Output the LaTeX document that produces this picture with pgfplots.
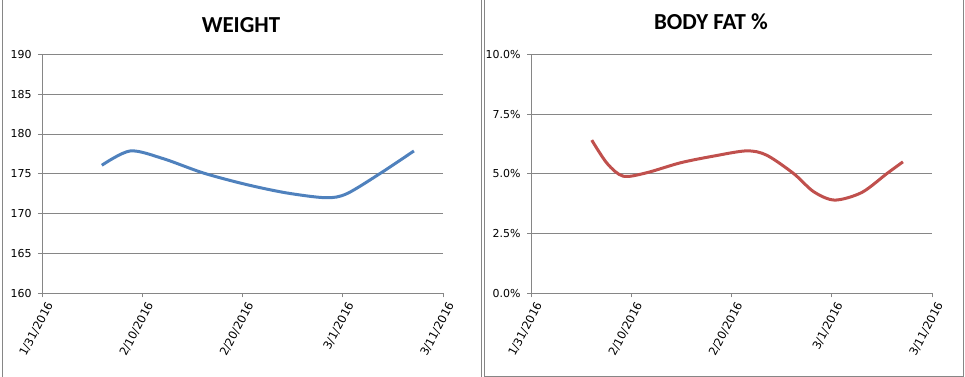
\documentclass[border=0pt]{standalone}
\usepackage{pgfplots}
\pgfplotsset{compat=1.18}
\usepackage{fontspec}
\setmainfont{DejaVu Sans}
\newfontfamily\titlefont{Carlito}
\definecolor{axgray}{RGB}{134,134,134}
\definecolor{wblue}{RGB}{79,129,189}
\definecolor{fred}{RGB}{192,80,77}
\pgfplotstableread{
day weight
5.97 176.07
8.8 177.87
12.1 176.9
16.1 175.1
20.4 173.65
24.4 172.6
28.3 172.0
30.4 172.5
33.8 175.1
37.1 177.87
}\weighttable
\pgfplotstableread{
day fat
6.06 6.41
7.6 5.43
9.2 4.90
11.5 5.04
14.9 5.46
18.2 5.74
21.5 5.96
23.5 5.78
26.2 5.01
28.2 4.25
30.3 3.90
33.0 4.22
35.5 5.01
37.1 5.50
}\fattable
\pgfplotsset{
  exstyle/.style={
    scale only axis, width=401bp, height=239bp,
    axis lines=left,
    axis line style={-, axgray, line width=0.9bp},
    tick align=outside,
    major tick length=4bp,
    tick style={axgray, line width=0.9bp},
    ymajorgrids,
    grid style={axgray, line width=0.9bp},
    xmin=0, xmax=40,
    xtick={0,10,20,30,40},
    xticklabels={1/31/2016,2/10/2016,2/20/2016,3/1/2016,3/11/2016},
    xticklabel style={rotate=62, anchor=east, yshift=-10bp, xshift=2bp, font=\fontsize{11.5}{12}\selectfont},
    yticklabel style={xshift=-3bp, font=\fontsize{11}{12}\selectfont},
    /pgf/number format/assume math mode=true,
    clip=false,
  }
}
\begin{document}
\begin{tikzpicture}
\path[use as bounding box] (0bp,0bp) rectangle (965bp,-377bp);
\begin{axis}[exstyle, at={(42bp,-293.3bp)}, anchor=south west,
  ymin=160, ymax=190, ytick={160,165,...,190}]
\addplot[wblue, line width=3bp, smooth] table[x=day,y=weight] {\weighttable};
\end{axis}
\begin{axis}[exstyle, at={(531bp,-293.3bp)}, anchor=south west,
  ymin=0, ymax=10, ytick={0,2.5,5,7.5,10},
  yticklabel={\pgfmathprintnumber[fixed,fixed zerofill,precision=1]{\tick}\%}]
\addplot[fred, line width=3bp, smooth] table[x=day,y=fat] {\fattable};
\end{axis}
\node[font=\titlefont\bfseries\fontsize{23}{26}\selectfont] at (241bp,-25bp) {WEIGHT};
\node[font=\titlefont\bfseries\fontsize{23}{26}\selectfont] at (711bp,-22bp) {BODY FAT \%};
\draw[axgray, line width=1bp] (2.5bp,0bp) -- (2.5bp,-377bp);
\draw[axgray, line width=1bp] (481.7bp,0bp) -- (481.7bp,-377bp);
\draw[axgray, line width=1bp] (484.3bp,0bp) -- (484.3bp,-376bp) -- (963.3bp,-376bp) -- (963.3bp,0bp);
\end{tikzpicture}
\end{document}
